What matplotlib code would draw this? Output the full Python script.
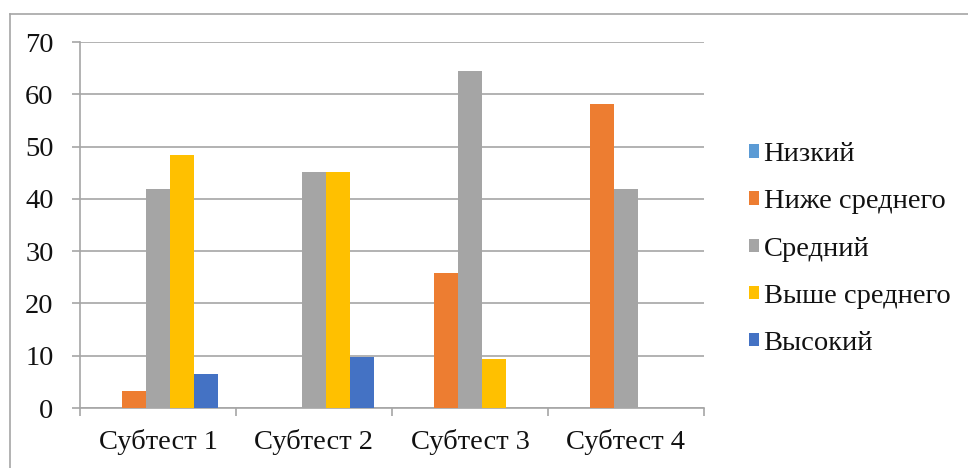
import numpy as np
from matplotlib import pyplot as plt
from matplotlib.lines import Line2D

# данные (проценты учащихся по уровням)
categorias = ["Субтест 1", "Субтест 2", "Субтест 3", "Субтест 4"]
niveles = ["Низкий", "Ниже среднего", "Средний", "Выше среднего", "Высокий"]
nizkiy = [0, 0, 0, 0]
nizhe_srednego = [3.2, 0, 25.8, 58.1]
sredniy = [41.9, 45.2, 64.5, 41.9]
vyshe_srednego = [48.4, 45.2, 9.4, 0]
vysokiy = [6.5, 9.7, 0, 0]
colores = ["#5B9BD5", "#ED7D31", "#A5A5A5", "#FFC000", "#4472C4"]

series = [nizkiy, nizhe_srednego, sredniy, vyshe_srednego, vysokiy]

plt.rcParams['font.family'] = ['Liberation Serif', 'DejaVu Serif']

fig = plt.figure(figsize=(9.68, 4.68), dpi=100)
ax = fig.add_axes([80/968, 60/468, 624/968, 366/468])

x = np.arange(len(categorias))
w = 0.154
for i, vals in enumerate(series):
    ax.bar(x + (i - 2) * w, vals, width=w, color=colores[i], linewidth=0,
           label=niveles[i], zorder=3)

ax.set_xlim(-0.5, len(categorias) - 0.5)
ax.set_ylim(0, 70)
ax.set_yticks(range(0, 71, 10))
ax.yaxis.grid(True, color="#A6A6A6", linewidth=1.2, zorder=0)

ax.set_xticks(x)
ax.set_xticklabels(categorias)
ax.set_xticks(np.arange(-0.5, len(categorias)), minor=True)
ax.tick_params(axis='x', which='major', length=0, pad=15, labelsize=20.5, labelcolor="#111111")
ax.tick_params(axis='x', which='minor', length=6, width=1.2, color="#A6A6A6")
ax.tick_params(axis='y', length=6, width=1.2, color="#A6A6A6", pad=13, labelsize=20.5,
               labelcolor="#111111")

for s in ["top", "right"]:
    ax.spines[s].set_visible(False)
for s in ["left", "bottom"]:
    ax.spines[s].set_color("#A6A6A6")
    ax.spines[s].set_linewidth(1.2)

leg = ax.legend(loc='center left', bbox_to_anchor=(738/968, 219/468), bbox_transform=fig.transFigure,
                frameon=False, fontsize=20.5, handlelength=0.35, handleheight=0.35,
                handletextpad=0.15, labelspacing=0.78, borderaxespad=0)
for t in leg.get_texts():
    t.set_color("#111111")

# borde del gráfico
fig.add_artist(Line2D([10/968, 10/968], [0, 1 - 14/468], color="#A6A6A6", linewidth=1.2,
                      transform=fig.transFigure))
fig.add_artist(Line2D([10/968, 1], [1 - 14/468, 1 - 14/468], color="#A6A6A6", linewidth=1.2,
                      transform=fig.transFigure))

fig.savefig("out.png", dpi=100)
